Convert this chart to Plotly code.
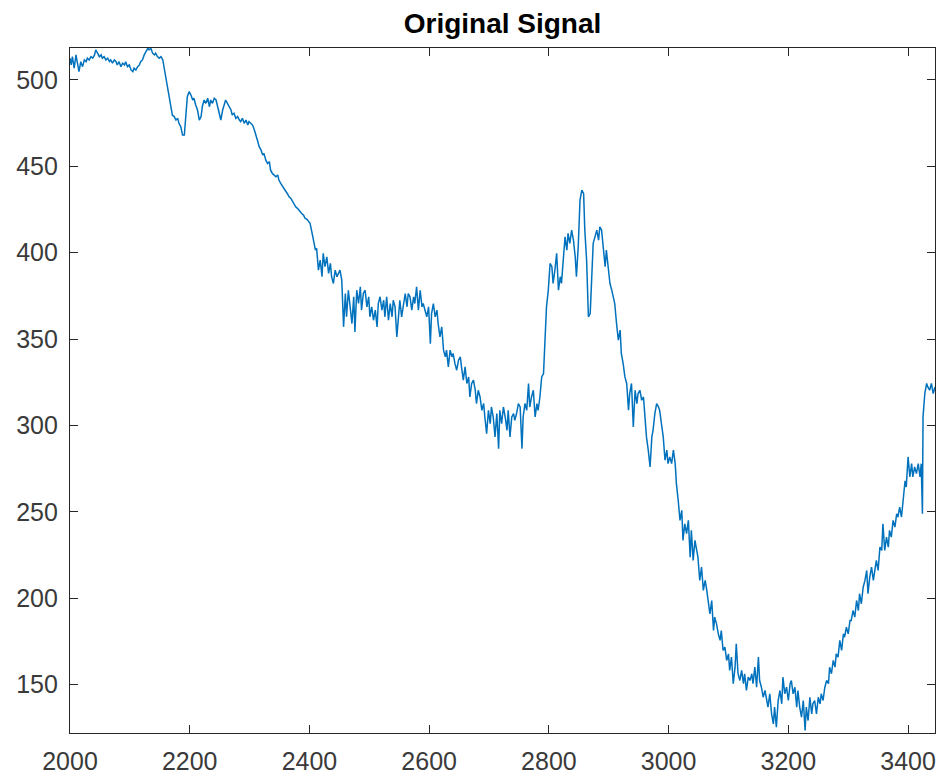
import plotly.graph_objects as go

# ---- data ----
seg1_x = [2000, 2002, 2004, 2007, 2010, 2013, 2015, 2018, 2021, 2024, 2027, 2029, 2032, 2035, 2038, 2041,
          2043, 2046, 2049, 2052, 2054, 2057, 2060, 2063, 2066, 2068, 2071, 2074, 2077, 2079, 2082, 2085,
          2088, 2091, 2093, 2096, 2099, 2102, 2105, 2107, 2110, 2113, 2116, 2118, 2121, 2124, 2127, 2130,
          2132, 2135, 2138, 2141, 2143, 2146, 2149, 2152, 2155, 2157, 2160, 2163, 2166, 2169, 2171, 2174,
          2177, 2180, 2182, 2185, 2188, 2191, 2194, 2196, 2199, 2202, 2205, 2207, 2210, 2213, 2216, 2219,
          2221, 2224, 2227, 2230, 2233, 2235, 2238, 2241, 2244, 2246, 2249, 2252, 2255, 2258, 2260, 2263,
          2266, 2269, 2271, 2274, 2277, 2280, 2283, 2285, 2288, 2291, 2294, 2297, 2299, 2302, 2305, 2308,
          2310, 2313, 2316, 2319, 2322, 2324, 2327, 2330, 2333, 2335, 2338, 2341, 2344, 2347, 2349, 2352,
          2355, 2358, 2361, 2363, 2366, 2369, 2372, 2374, 2377, 2380]
seg1_y = [512.6, 508.7, 513.5, 506.8, 514.5, 509.7, 504.8, 510.6, 507.7, 511.6, 510.6, 512.6, 511.6, 513.5,
          512.6, 514.5, 517.4, 515.5, 513.5, 514.5, 512.6, 513.5, 511.6, 512.6, 510.6, 511.6, 509.7, 511.6,
          510.6, 508.7, 510.6, 507.7, 509.7, 508.7, 510.6, 507.7, 508.7, 505.8, 504.8, 506.8, 505.8, 507.7,
          508.7, 510.6, 511.6, 514.5, 516.4, 518.4, 517.4, 518.4, 515.5, 514.5, 515.5, 513.5, 512.6, 513.5,
          511.6, 507.7, 501.9, 494.2, 488.4, 484.5, 479.7, 478.8, 476.8, 477.8, 474.9, 473.0, 468.1, 468.1,
          478.8, 490.3, 493.2, 491.3, 488.4, 489.4, 485.5, 482.6, 476.8, 478.8, 484.5, 488.4, 486.5, 489.4,
          484.5, 488.4, 486.5, 489.4, 488.4, 485.5, 481.6, 476.8, 482.6, 486.5, 488.4, 486.5, 484.5, 482.6,
          479.7, 480.7, 477.8, 478.8, 476.8, 475.9, 477.8, 474.9, 476.8, 473.9, 475.9, 474.9, 473.9, 471.0,
          469.1, 465.2, 461.4, 459.5, 456.6, 457.5, 453.7, 451.7, 452.7, 447.9, 445.9, 445.0, 444.0, 445.0,
          442.1, 440.1, 438.2, 437.2, 435.3, 434.3, 432.4, 431.4, 429.5, 428.6, 426.6, 425.7]

seg2_x = [2384, 2387, 2390, 2393, 2396, 2398, 2401, 2404, 2407, 2410, 2412, 2415, 2418, 2421, 2423, 2426,
          2429, 2432, 2435, 2437, 2440, 2443, 2446, 2449, 2451, 2454, 2457, 2460, 2462, 2465, 2468, 2471,
          2474, 2476, 2479, 2482, 2485, 2487, 2490, 2493, 2496, 2499, 2501, 2504, 2507, 2510, 2513, 2515,
          2518, 2521, 2524, 2526, 2529, 2532, 2535, 2538, 2540, 2543, 2546, 2549, 2551, 2554, 2557, 2560,
          2563, 2565, 2568, 2571, 2574, 2576, 2579, 2582, 2585, 2588, 2590, 2593, 2596, 2599, 2602, 2604,
          2607, 2610, 2613, 2615, 2618, 2621, 2624, 2627, 2629, 2632, 2635, 2638, 2640, 2643, 2646, 2649,
          2652, 2654, 2657, 2660, 2663, 2666, 2668, 2671, 2674, 2677, 2679, 2682, 2685, 2688, 2691, 2693,
          2696, 2699, 2702, 2704, 2707, 2710, 2713, 2716, 2718, 2721, 2724, 2727, 2730, 2732, 2735, 2738,
          2741, 2743, 2746, 2749, 2752, 2755, 2757, 2760, 2763, 2766, 2768, 2771, 2774, 2777, 2780, 2782,
          2785, 2788, 2791, 2794, 2796, 2799, 2802, 2805, 2807, 2810, 2813, 2816, 2819, 2821, 2824, 2827,
          2830, 2832, 2835, 2838, 2841, 2844, 2846, 2849, 2852, 2855, 2858, 2860, 2863, 2866, 2869, 2871,
          2874, 2877, 2880, 2883, 2885, 2888, 2891, 2894, 2896, 2899, 2902, 2905, 2908, 2910, 2913, 2916]
seg2_y = [423.7, 422.7, 421.8, 419.8, 419.3, 418.5, 417.0, 412.1, 407.3, 401.5, 402.5, 389.9, 395.7, 386.1,
          399.6, 391.9, 397.6, 388.0, 393.8, 386.1, 382.2, 389.9, 386.1, 389.0, 389.9, 384.1, 357.1, 376.4,
          362.9, 378.3, 368.7, 359.0, 374.5, 354.2, 378.3, 370.6, 380.3, 366.8, 376.4, 378.3, 368.7, 374.5,
          362.9, 368.7, 360.9, 366.8, 357.1, 370.6, 374.5, 366.8, 372.5, 362.9, 374.5, 360.9, 370.6, 362.9,
          372.5, 368.7, 351.3, 366.8, 372.5, 362.9, 370.6, 376.4, 368.7, 376.4, 374.5, 366.8, 374.5, 370.6,
          380.3, 366.8, 378.3, 368.7, 370.6, 366.8, 362.9, 368.7, 347.4, 364.8, 370.6, 362.9, 366.8, 359.0,
          351.3, 357.1, 343.6, 339.7, 343.6, 333.9, 343.6, 339.7, 341.7, 335.9, 332.0, 337.8, 339.7, 333.9,
          326.2, 333.9, 324.3, 328.1, 316.5, 324.3, 326.2, 320.4, 312.7, 320.4, 316.5, 308.8, 312.7, 304.9,
          295.3, 308.8, 301.1, 310.7, 304.9, 293.4, 306.9, 286.6, 308.8, 301.1, 310.7, 304.9, 297.2, 308.8,
          293.4, 304.9, 306.9, 303.0, 306.9, 312.7, 310.7, 286.6, 304.9, 312.7, 308.8, 324.3, 310.7, 316.5,
          320.4, 304.9, 312.7, 308.8, 316.5, 328.1, 330.0, 353.2, 368.7, 378.3, 393.8, 391.9, 382.2, 389.9,
          399.6, 378.3, 386.1, 382.2, 397.6, 409.2, 401.5, 411.2, 405.4, 413.1, 407.3, 397.6, 386.1, 403.4,
          430.5, 436.3, 434.3, 413.1, 395.7, 362.9, 364.8, 386.1, 405.4, 409.2, 413.1, 407.3, 415.0, 413.1,
          401.5, 391.9, 401.5, 391.9, 382.2, 378.3, 372.5, 370.6, 359.0, 349.4]

seg3_x = [2919, 2921, 2924, 2927, 2930, 2933, 2935, 2938, 2941, 2944, 2947, 2949, 2952, 2955, 2958, 2960,
          2963, 2966, 2969, 2972, 2974, 2977, 2980, 2983, 2985, 2988, 2991, 2994, 2997, 2999, 3002, 3005,
          3008, 3011, 3013, 3016, 3019, 3022, 3024, 3027, 3030, 3033, 3036, 3038, 3041, 3044, 3047, 3049,
          3052, 3055, 3058, 3061, 3063, 3066, 3069, 3072, 3075, 3077, 3080, 3083, 3086, 3088, 3091, 3094,
          3097, 3100, 3102, 3105, 3108, 3111, 3113, 3116, 3119, 3122, 3125, 3127, 3130, 3133, 3136, 3139,
          3141, 3144, 3147, 3150, 3152, 3155, 3158, 3161, 3164, 3166, 3169, 3172, 3175, 3177, 3180, 3183,
          3186, 3189, 3191, 3194, 3197, 3200, 3203, 3205, 3208, 3211, 3214, 3216, 3219, 3222, 3225, 3228,
          3230, 3233, 3236, 3239, 3241, 3244, 3247, 3250, 3253, 3255, 3258, 3261, 3264, 3267, 3269, 3272,
          3275, 3278, 3280, 3283, 3286, 3289, 3292, 3294, 3297, 3300, 3303, 3305, 3308, 3311, 3314, 3317,
          3319, 3322, 3325, 3328, 3331, 3333, 3336, 3339, 3342, 3344, 3347, 3350, 3353, 3356, 3358, 3361,
          3364, 3367, 3369, 3372, 3375, 3378, 3381, 3383, 3386, 3389, 3392, 3395, 3397, 3400, 3403, 3406,
          3408, 3411, 3414, 3417, 3420, 3422, 3424, 3425, 3428, 3431, 3433, 3436, 3439, 3442, 3445]
seg3_y = [355.2, 341.7, 335.9, 328.1, 324.3, 308.8, 318.5, 324.3, 299.2, 320.4, 312.7, 318.5, 320.4, 314.6,
          316.5, 305.0, 293.4, 285.7, 276.0, 293.4, 297.2, 306.9, 312.7, 310.8, 308.8, 301.1, 293.4, 279.9,
          285.7, 277.9, 281.8, 277.9, 285.7, 277.9, 266.3, 256.7, 245.1, 250.9, 233.5, 243.1, 237.4, 245.1,
          223.8, 239.3, 221.9, 233.5, 227.7, 223.8, 210.3, 218.0, 204.5, 210.3, 206.4, 198.7, 191.0, 198.7,
          181.3, 189.1, 185.2, 179.4, 175.6, 181.3, 169.8, 171.7, 164.0, 167.8, 158.2, 165.9, 150.5, 160.1,
          173.6, 156.3, 152.4, 158.2, 150.5, 156.3, 146.6, 154.3, 152.4, 156.3, 150.5, 160.1, 148.5, 165.9,
          152.4, 148.5, 142.7, 146.6, 140.8, 137.0, 144.7, 133.1, 127.3, 137.0, 125.4, 140.8, 146.6, 138.9,
          154.3, 144.7, 148.5, 140.8, 150.5, 152.4, 144.7, 148.5, 137.0, 146.6, 137.0, 131.2, 140.8, 123.4,
          137.0, 129.2, 142.7, 133.1, 138.9, 140.8, 133.1, 142.7, 138.9, 144.7, 140.8, 148.5, 152.4, 150.5,
          160.1, 156.3, 164.0, 160.1, 167.8, 165.9, 175.6, 169.8, 179.4, 177.5, 183.3, 179.4, 187.1, 187.1,
          192.9, 189.1, 198.7, 192.9, 202.6, 196.8, 206.4, 210.3, 216.1, 202.6, 212.2, 218.0, 210.3, 216.1,
          221.9, 216.1, 229.6, 227.7, 243.1, 227.7, 235.4, 229.6, 239.3, 235.4, 245.1, 241.2, 248.9, 247.0,
          252.8, 247.0, 256.7, 268.0, 264.4, 281.8, 270.2, 277.9, 270.2, 276.0, 272.1, 277.9, 270.2, 277.9,
          248.9, 305.0, 318.5, 324.3, 322.3, 320.4, 324.3, 318.5, 322.3]

x_ticks = [2000, 2200, 2400, 2600, 2800, 3000, 3200, 3400]
y_ticks = [150, 200, 250, 300, 350, 400, 450, 500]
title_text = "Original Signal"

x = seg1_x + seg2_x + seg3_x
y = seg1_y + seg2_y + seg3_y
n = min(len(x), len(y))
x, y = x[:n], y[:n]

fig = go.Figure(go.Scatter(x=x, y=y, mode="lines",
                           line=dict(color="#0072BD", width=1.5), hoverinfo="skip"))

axis_common = dict(showgrid=False, zeroline=False, showline=True, linecolor="#262626",
                   linewidth=1.3, mirror="allticks", ticks="inside", ticklen=8,
                   tickwidth=1.3, tickcolor="#262626", automargin=False,
                   tickfont=dict(family="Liberation Sans, Arial, sans-serif", size=25, color="#3a3a3a"))

fig.update_layout(
    width=940, height=776,
    margin=dict(l=70, r=5, t=48, b=43, autoexpand=False),
    paper_bgcolor="white", plot_bgcolor="white",
    showlegend=False,
    title=dict(text="<b>" + title_text + "</b>", x=0.5, xref="paper", xanchor="center",
               y=0.97, yref="container", yanchor="middle",
               font=dict(family="Liberation Sans, Arial, sans-serif", size=28, color="black")),
    xaxis=dict(range=[2000, 3445], tickvals=x_ticks, ticklabelstandoff=6, **axis_common),
    yaxis=dict(range=[122, 518.5], tickvals=y_ticks, ticklabelstandoff=6, **axis_common),
)

fig.write_html("out.html", config={"displayModeBar": False},
               post_script="document.body.style.margin='0';document.body.style.overflow='hidden';")
